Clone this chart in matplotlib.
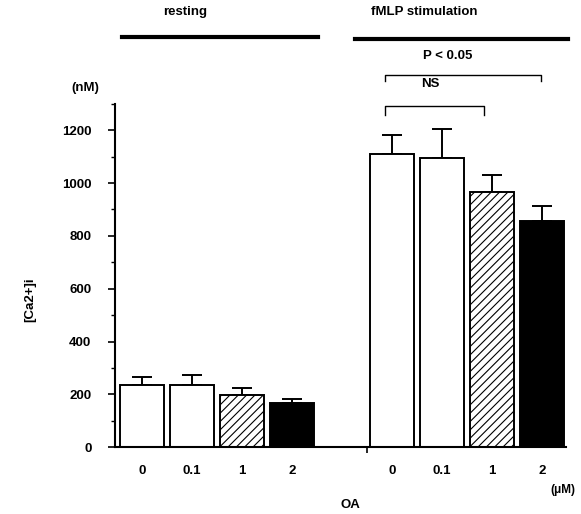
import numpy as np
import matplotlib
matplotlib.use("Agg")
import matplotlib.pyplot as plt
from matplotlib.lines import Line2D

plt.rcParams['font.family'] = ['Liberation Sans', 'DejaVu Sans']
plt.rcParams['font.weight'] = 'bold'
plt.rcParams['hatch.linewidth'] = 0.8

# data
doses = ['0', '0.1', '1', '2']
resting = [235, 235, 198, 168]
resting_err = [32, 38, 25, 15]
fmlp = [1110, 1095, 968, 856]
fmlp_err = [72, 108, 61, 57]
faces = ['white', 'white', 'white', 'black']
hatches = ['', '', '////', '']

x_rest = np.arange(4)
x_fmlp = np.arange(4) + 5

fs = 9.5

fig = plt.figure(figsize=(5.81, 5.14), dpi=100)
ax = fig.add_axes([0.198, 0.130, 0.776, 0.668])

for xs, vals, errs in [(x_rest, resting, resting_err), (x_fmlp, fmlp, fmlp_err)]:
    ax.bar(xs, vals, width=0.88, color=faces, edgecolor='black', linewidth=1.4,
           hatch=hatches, zorder=2)
    ax.errorbar(xs, vals, yerr=[np.zeros(4), errs], fmt='none', ecolor='black',
                elinewidth=1.4, capsize=7.5, capthick=1.4, zorder=1)

ax.set_xlim(-0.54, 8.48)
ax.set_ylim(0, 1300)
ax.set_yticks(np.arange(0, 1201, 200))
ax.set_yticks(np.arange(100, 1301, 200), minor=True)
ax.set_xticks(np.concatenate([x_rest, x_fmlp]))
ax.set_xticklabels(doses + doses)
ax.set_xticks([4.5], minor=True)
ax.tick_params(axis='y', which='major', length=5, width=1.2, pad=12, labelsize=fs)
ax.tick_params(axis='y', which='minor', length=3, width=1.0)
ax.tick_params(axis='x', which='major', length=0, pad=13, labelsize=fs)
ax.tick_params(axis='x', which='minor', length=4, width=1.2)
for lab in ax.get_xticklabels() + ax.get_yticklabels():
    lab.set_fontweight('bold')

for s in ['top', 'right']:
    ax.spines[s].set_visible(False)
for s in ['left', 'bottom']:
    ax.spines[s].set_linewidth(1.5)

# significance brackets
def bracket(x0, x1, y, drop, text, tx, ty):
    ax.plot([x0, x0, x1, x1], [y - drop, y, y, y - drop], color='black',
            linewidth=1.0, clip_on=False)
    ax.text(tx, ty, text, ha='center', va='center', fontsize=fs, fontweight='bold')

bracket(4.86, 7.98, 1408, 20, 'P < 0.05', 6.12, 1480)
bracket(4.86, 6.84, 1290, 34, 'NS', 5.76, 1375)

# group headings
fig.add_artist(Line2D([122 / 581, 318 / 581], [1 - 37 / 514] * 2, color='black', linewidth=3))
fig.add_artist(Line2D([355 / 581, 568 / 581], [1 - 39 / 514] * 2, color='black', linewidth=3))
fig.text(185 / 581, 1 - 12 / 514, 'resting', ha='center', va='center', fontsize=fs, fontweight='bold')
fig.text(424 / 581, 1 - 12 / 514, 'fMLP stimulation', ha='center', va='center', fontsize=fs, fontweight='bold')

fig.text(30 / 581, 1 - 300 / 514, '[Ca2+]i', rotation=90, ha='center', va='center', fontsize=fs, fontweight='bold')
fig.text(85 / 581, 1 - 88 / 514, '(nM)', ha='center', va='center', fontsize=fs, fontweight='bold')
fig.text(350 / 581, 1 - 505 / 514, 'OA', ha='center', va='center', fontsize=fs, fontweight='bold')
fig.text(563 / 581, 1 - 490 / 514, '(\u03bcM)', ha='center', va='center', fontsize=8.5, fontweight='bold')

fig.savefig('out.png', dpi=100)
